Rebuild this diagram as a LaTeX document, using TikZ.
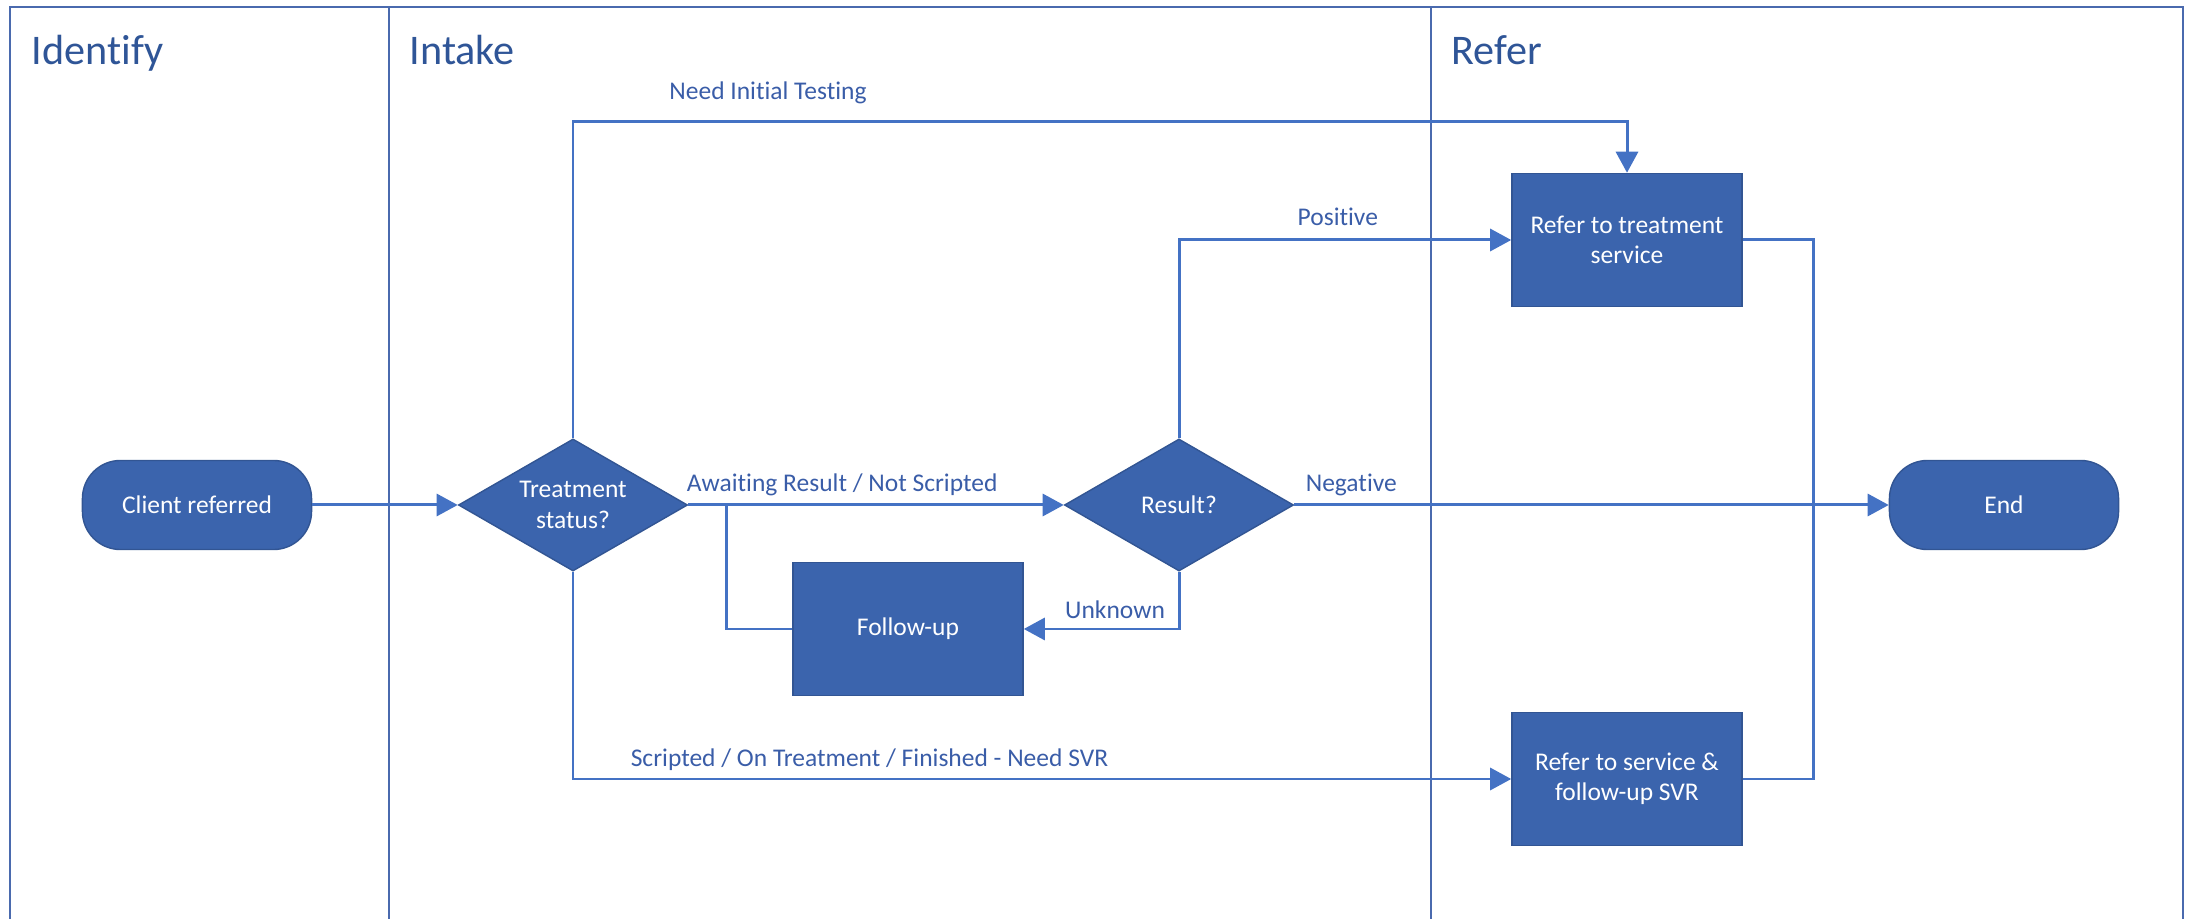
\documentclass[tikz,border=0pt]{standalone}
\usepackage{fontspec}
\setmainfont[Ligatures=NoCommon]{Carlito}
\usetikzlibrary{shapes.geometric,arrows.meta}

\definecolor{boxblue}{HTML}{3B64AD}
\definecolor{lineblue}{HTML}{4472C4}
\definecolor{laneblue}{HTML}{4A6AAE}
\definecolor{textblue}{HTML}{3A5DA8}
\definecolor{titleblue}{HTML}{2F5597}

\newcommand{\boxfont}{\fontsize{7.25}{8.6}\selectfont}
\newcommand{\lanefont}{\fontsize{12}{14}\selectfont}

\tikzset{
  box/.style={draw=boxblue!85!black, line width=0.4pt, fill=boxblue, text=white,
    minimum width=2.3cm, minimum height=1.33cm, align=center, font=\boxfont, inner sep=0pt},
  term/.style={box, rounded corners=0.38cm, minimum width=2.29cm, minimum height=0.89cm},
  choice/.style={box, diamond, shape aspect=1.73, minimum width=2.29cm, minimum height=1.32cm},
  link/.style={draw=lineblue, line width=0.85pt},
  flow/.style={link, -{Triangle[length=0.21cm,width=0.22cm]}},
  lbl/.style={text=textblue, font=\boxfont, anchor=base, inner sep=0pt},
  lane/.style={draw=laneblue, line width=0.7pt},
  lanetitle/.style={text=titleblue, font=\lanefont, anchor=base west, inner sep=0pt}
}

\begin{document}
\begin{tikzpicture}[x=0.01cm,y=-0.01cm]
\useasboundingbox (0,0) rectangle (2193,919);
% swimlanes
\draw[lane] (10,919) -- (10,7) -- (2183,7) -- (2183,919);
\draw[lane] (389,7) -- (389,919);
\draw[lane] (1431,7) -- (1431,919);
\node[lanetitle] (identify) at (31,65) {Identify};
\node[lanetitle] (intake) at (409,65) {Intake};
\node[lanetitle] (refer) at (1451,65) {Refer};
% steps
\draw (197,505) node[term](client) {Client referred};
\draw (573,505) node[choice](status) {Treatment\\status?};
\draw (1179,505) node[choice](result) {Result?};
\draw (908,629) node[box](followup) {Follow-up};
\draw (1627,240) node[box](refertreat) {Refer to treatment\\service};
\draw (1627,779) node[box](referservice) {Refer to service \&\\follow-up SVR};
\draw (2004,505) node[term](finish) {End};
\coordinate (merge) at (726,505);
% connectors
\draw[flow] (client) -- (status);
\draw[flow] (status) -- node[lbl, pos=0.41, yshift=0.13cm] {Awaiting Result / Not Scripted} (result);
\draw[flow] (status.north) -- ++(0,-317) -| node[lbl, pos=0.0925, yshift=0.22cm] {Need Initial Testing} (refertreat.north);
\draw[flow] (result.north) |- node[lbl, pos=0.739, yshift=0.14cm] {Positive} (refertreat.west);
\draw[flow] (result.east) -- node[lbl, anchor=base west, pos=0, xshift=0.1cm, yshift=0.13cm] {Negative} (finish.west);
\draw[flow] (result.south) |- node[lbl, pos=0.706, yshift=0.1cm] {Unknown} (followup.east);
\draw[link] (followup.west) -| (merge);
\draw[flow] (status.south) |- node[lbl, pos=0.658, yshift=0.12cm] {Scripted / On Treatment / Finished - Need SVR} (referservice.west);
\draw[link] (refertreat.east) -- ++(71,0) |- (referservice.east);
\end{tikzpicture}
\end{document}
